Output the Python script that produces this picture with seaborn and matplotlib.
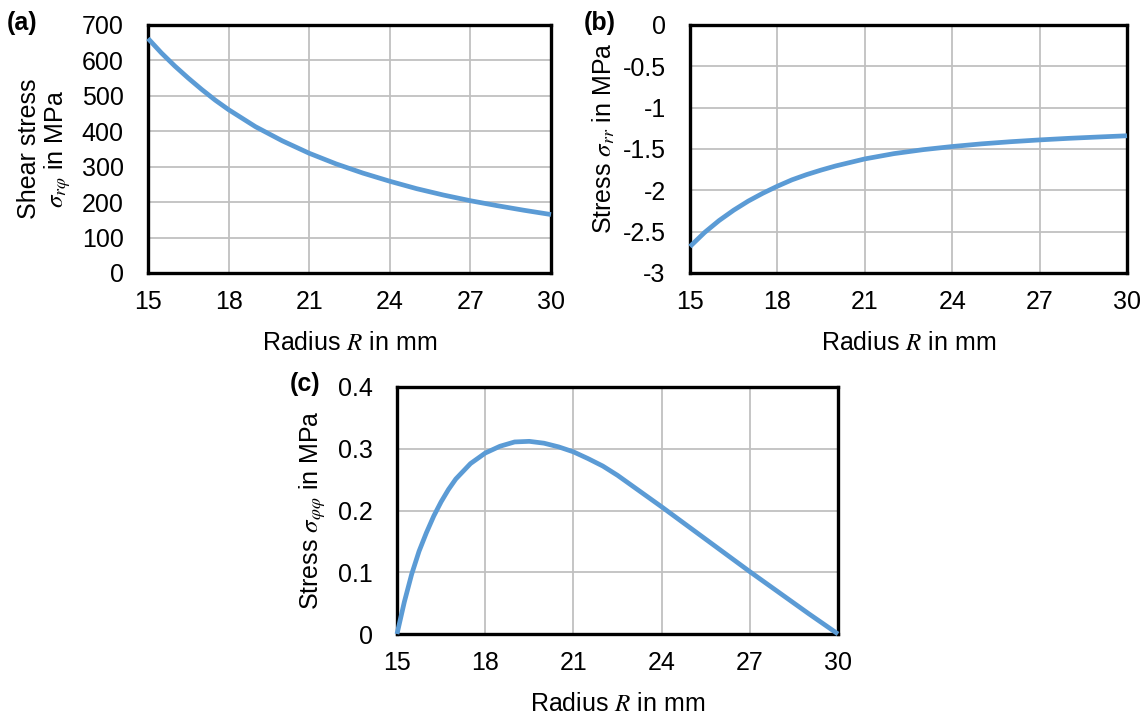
import matplotlib
matplotlib.use("Agg")
import matplotlib.pyplot as plt
import seaborn as sns

# Radial coordinate (mm) and stress values (MPa)
radius_a = [15, 15.5, 16, 16.5, 17, 17.5, 18, 19, 20, 21, 22, 23, 24, 25, 26, 27, 28, 29, 30]
shear_stress = [662, 621, 584, 550, 518, 488, 461, 413, 373, 338, 308, 282, 259, 238,
                220, 204, 190, 177, 165]

radius_b = [15, 15.5, 16, 16.5, 17, 17.5, 18, 18.5, 19, 19.5, 20, 21, 22, 23, 24, 25,
            26, 27, 28, 29, 30]
radial_stress = [-2.68, -2.51, -2.365, -2.24, -2.13, -2.035, -1.95, -1.873, -1.81, -1.755,
                 -1.705, -1.62, -1.556, -1.508, -1.47, -1.438, -1.412, -1.39, -1.371,
                 -1.355, -1.34]

radius_c = [15, 15.25, 15.5, 15.75, 16, 16.25, 16.5, 16.75, 17, 17.5, 18, 18.5, 19, 19.5,
            20, 20.5, 21, 21.5, 22, 22.5, 23, 24, 25, 26, 27, 28, 29, 30]
hoop_stress = [0, 0.052, 0.097, 0.134, 0.164, 0.191, 0.214, 0.234, 0.251, 0.276, 0.293,
               0.304, 0.311, 0.312, 0.309, 0.303, 0.295, 0.284, 0.272, 0.257, 0.240,
               0.206, 0.171, 0.136, 0.101, 0.067, 0.033, 0]

x_ticks = [15, 18, 21, 24, 27, 30]
x_tick_labels = ["15", "18", "21", "24", "27", "30"]
a_ticks = [0, 100, 200, 300, 400, 500, 600, 700]
a_tick_labels = ["0", "100", "200", "300", "400", "500", "600", "700"]
b_ticks = [-3, -2.5, -2, -1.5, -1, -0.5, 0]
b_tick_labels = ["-3", "-2.5", "-2", "-1.5", "-1", "-0.5", "0"]
c_ticks = [0, 0.1, 0.2, 0.3, 0.4]
c_tick_labels = ["0", "0.1", "0.2", "0.3", "0.4"]

sns.set_theme(style="whitegrid")
plt.rcParams["font.family"] = ["Liberation Sans", "DejaVu Sans"]
plt.rcParams["mathtext.fontset"] = "stix"
plt.rcParams["axes.unicode_minus"] = False

LINE_COLOR = "#5B9BD5"
GRID_COLOR = "#C0C0C0"
FS = 18

fig = plt.figure(figsize=(11.48, 7.2), dpi=100, facecolor="white")
W, H = 1148, 720


def make_axes(left, right, top, bottom):
    return fig.add_axes([left / W, 1 - bottom / H, (right - left) / W, (bottom - top) / H])


def style_axes(ax, yticks, ylabels, ylim, ylabel, ylabel_x, ylabel_y=0.5):
    ax.set_facecolor("white")
    ax.set_xlim(15, 30)
    ax.set_ylim(*ylim)
    ax.set_xticks(x_ticks)
    ax.set_xticklabels(x_tick_labels)
    ax.set_yticks(yticks)
    ax.set_yticklabels(ylabels)
    ax.tick_params(axis="both", length=0, labelsize=FS, colors="black")
    ax.tick_params(axis="y", pad=17.5)
    ax.tick_params(axis="x", pad=12)
    ax.grid(True, color=GRID_COLOR, linewidth=1.3)
    for sp in ax.spines.values():
        sp.set_visible(True)
        sp.set_color("black")
        sp.set_linewidth(2.4)
        sp.set_zorder(3)
    ax.set_xlabel("Radius $R$ in mm", fontsize=FS, color="black", va="center")
    ax.xaxis.set_label_coords(0.5, -0.282)
    ax.set_ylabel(ylabel, fontsize=FS, color="black", va="center", ha="center",
                  linespacing=1.1)
    ax.yaxis.set_label_coords(ylabel_x, ylabel_y)
    if ax.get_legend() is not None:
        ax.get_legend().remove()


def draw_curve(ax, x, y):
    sns.lineplot(x=x, y=y, ax=ax, color=LINE_COLOR, linewidth=3.4,
                 estimator=None, sort=True, legend=False)
    for ln in ax.lines:
        ln.set_clip_on(False)
        ln.set_zorder(4)
        ln.set_solid_capstyle("butt")
        ln.set_solid_joinstyle("round")


# (a) shear stress
ax_a = make_axes(148, 551, 25, 273)
draw_curve(ax_a, radius_a, shear_stress)
style_axes(ax_a, a_ticks, a_tick_labels, (0, 700),
           "Shear stress\n$\\sigma_{r\\varphi}$ in MPa", (45 - 148) / 403)

# (b) radial stress
ax_b = make_axes(690, 1127, 25, 273)
draw_curve(ax_b, radius_b, radial_stress)
style_axes(ax_b, b_ticks, b_tick_labels, (-3, 0),
           "Stress $\\sigma_{rr}$ in MPa", (604 - 690) / 437, 0.545)

# (c) hoop stress
ax_c = make_axes(397, 838, 387, 634)
draw_curve(ax_c, radius_c, hoop_stress)
style_axes(ax_c, c_ticks, c_tick_labels, (0, 0.4),
           "Stress $\\sigma_{\\varphi\\varphi}$ in MPa", (313 - 397) / 441)

# Panel letters
for label, (px, py) in {"(a)": (22, 23), "(b)": (600, 23), "(c)": (305, 384)}.items():
    fig.text(px / W, 1 - py / H, label, fontsize=FS, fontweight="bold",
             ha="center", va="center", color="black")

fig.savefig("out.png", dpi=100, facecolor="white")
